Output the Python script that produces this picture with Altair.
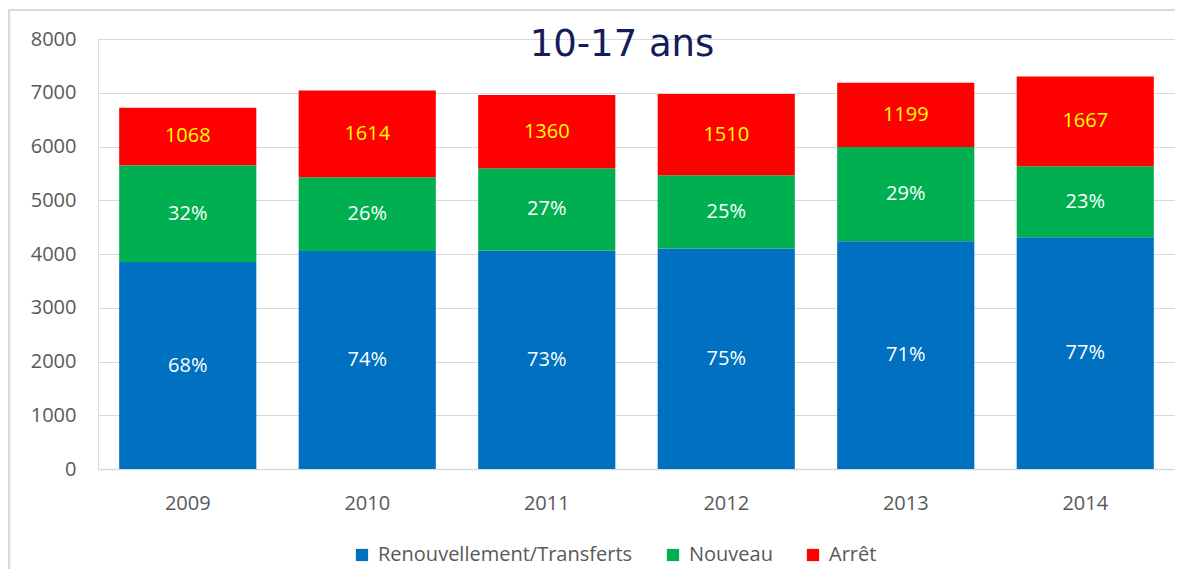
import altair as alt
import pandas as pd

years = ["2009", "2010", "2011", "2012", "2013", "2014"]
categories = ["Renouvellement/Transferts", "Nouveau", "Arrêt"]
renouvellement = [3849, 4054, 4067, 4104, 4235, 4310]
nouveau = [1804, 1375, 1530, 1362, 1754, 1324]
arret = [1068, 1614, 1360, 1510, 1199, 1667]
renouv_labels = ["68%", "74%", "73%", "75%", "71%", "77%"]
nouveau_labels = ["32%", "26%", "27%", "25%", "29%", "23%"]
arret_labels = ["1068", "1614", "1360", "1510", "1199", "1667"]
colors = ["#0070C0", "#00B050", "#FF0000"]
label_colors = ["#FFFFFF", "#FFFFFF", "#FFFF00"]
y_ticks = [0, 1000, 2000, 3000, 4000, 5000, 6000, 7000, 8000]
title_text = "10-17 ans"

rows = []
for i, y in enumerate(years):
    for k, (vals, labs) in enumerate([(renouvellement, renouv_labels),
                                       (nouveau, nouveau_labels),
                                       (arret, arret_labels)]):
        rows.append({"year": y, "cat": categories[k], "order": k,
                     "value": vals[i], "label": labs[i],
                     "lcolor": label_colors[k]})
df = pd.DataFrame(rows)

W, H = 1077, 430
FONT = "Open Sans"
GREY = "#595959"

base = alt.Chart(df).transform_stack(
    stack="value", groupby=["year"], sort=[alt.SortField("order")], as_=["y0", "y1"]
).transform_calculate(mid="(datum.y0 + datum.y1) / 2")

xenc = alt.X("year:N", sort=years, title=None,
             scale=alt.Scale(paddingInner=0.236, paddingOuter=0.118),
             axis=alt.Axis(labelAngle=0, labelFont=FONT, labelFontSize=20,
                           labelColor=GREY, labelPadding=24, ticks=False,
                           domain=True, domainColor="#d9d9d9", domainWidth=1.5,
                           grid=False))

bars = base.mark_bar().encode(
    x=xenc,
    y=alt.Y("y0:Q", title=None,
            scale=alt.Scale(domain=[0, 8000], nice=False),
            axis=alt.Axis(values=y_ticks, format="d", labelFont=FONT, labelFontSize=20,
                          labelColor=GREY, labelPadding=22, ticks=False,
                          domain=False, grid=True, gridColor="#d9d9d9",
                          gridWidth=1)),
    y2="y1:Q",
    color=alt.Color("cat:N", title=None,
                    scale=alt.Scale(domain=categories, range=colors),
                    legend=alt.Legend(orient="none", direction="horizontal",
                                      legendX=254, legendY=506,
                                      symbolType="square", symbolSize=150,
                                      symbolStrokeWidth=0, labelFont=FONT,
                                      labelFontSize=20, labelColor=GREY,
                                      labelLimit=0,
                                      labelOffset=6, columnPadding=30)),
)

labels = base.mark_text(font=FONT, fontSize=20, baseline="middle", align="center").encode(
    x=alt.X("year:N", sort=years),
    y=alt.Y("mid:Q"),
    text="label:N",
    color=alt.Color("lcolor:N", scale=None),
)

title = alt.Chart(pd.DataFrame({"t": [title_text]})).mark_text(
    font="DejaVu Sans", fontSize=37, color="#141C5C", baseline="middle", align="center"
).encode(text="t:N", x=alt.value(524), y=alt.value(6))

frame_df = pd.DataFrame({"a": [0]})
left_border = alt.Chart(frame_df).mark_rule(color="#d9d9d9", strokeWidth=2.5).encode(
    x=alt.value(-89), y=alt.value(-30), y2=alt.value(540))
top_border = alt.Chart(frame_df).mark_rule(color="#d9d9d9", strokeWidth=2).encode(
    x=alt.value(-89), x2=alt.value(1079), y=alt.value(-29))

chart = alt.layer(left_border, top_border, bars, labels, title).properties(
    width=W, height=H,
    autosize=alt.AutoSizeParams(type="none"),
    padding={"left": 90, "top": 31, "right": 0, "bottom": 100},
).configure_view(strokeWidth=0, stroke="transparent").configure(background="white")

chart.save("out.html", embed_options={"renderer": "svg", "actions": False})
